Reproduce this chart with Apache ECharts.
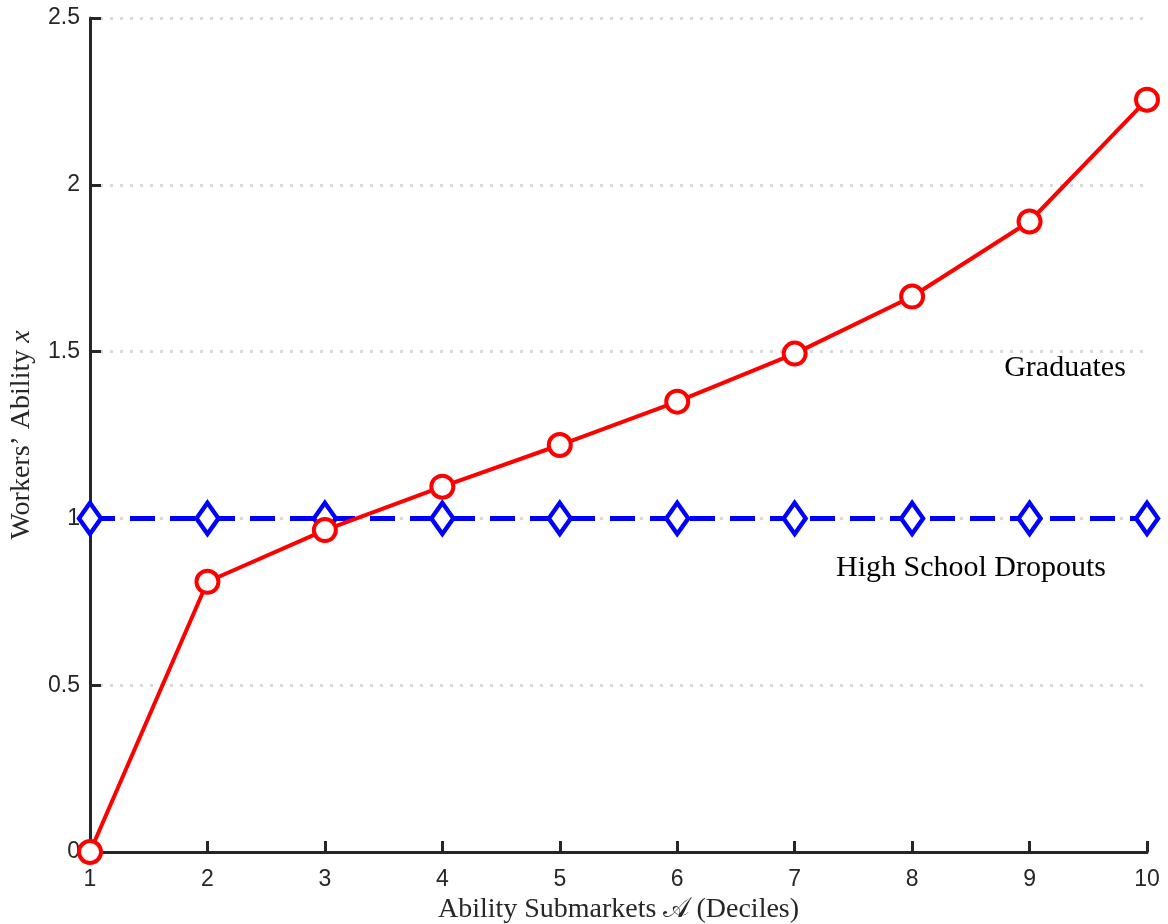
<!DOCTYPE html>
<html>
<head>
<meta charset="utf-8">
<script src="https://cdn.jsdelivr.net/npm/echarts@6/dist/echarts.min.js"></script>
<style>html,body{margin:0;padding:0;background:#fff}#c{width:1168px;height:924px}</style>
</head>
<body>
<div id="c"></div>
<script>
const deciles = [1, 2, 3, 4, 5, 6, 7, 8, 9, 10];
const graduates = [0, 0.81, 0.965, 1.095, 1.22, 1.35, 1.494, 1.665, 1.89, 2.255];
const dropouts = [1, 1, 1, 1, 1, 1, 1, 1, 1, 1];
const yTickLabels = {0: '0', 0.5: '0.5', 1: '1', 1.5: '1.5', 2: '2', 2.5: '2.5'};

const chart = echarts.init(document.getElementById('c'), null, {renderer: 'canvas'});
const axisColor = '#262626';
const serif = '"Liberation Serif", "DejaVu Serif", serif';
const sans = '"Liberation Sans", Arial, sans-serif';

chart.setOption({
  animation: false,
  backgroundColor: '#fff',
  grid: {left: 90, right: 21, top: 18, bottom: 72, containLabel: false, outerBoundsMode: 'none'},
  xAxis: {
    type: 'value', min: 1, max: 10, interval: 1,
    name: 'Ability Submarkets 𝒜 (Deciles)',
    nameLocation: 'middle', nameGap: 44,
    nameTextStyle: {fontFamily: serif, fontSize: 28, color: '#262626'},
    axisLine: {show: true, onZero: false, lineStyle: {color: axisColor, width: 3}},
    axisTick: {show: true, inside: true, length: 11, lineStyle: {color: axisColor, width: 3}},
    axisLabel: {fontFamily: sans, fontSize: 23, color: '#262626', margin: 16},
    splitLine: {show: false}
  },
  yAxis: {
    type: 'value', min: 0, max: 2.5, interval: 0.5,
    name: "{a|Workers’ Ability }{b|x}",
    nameLocation: 'middle', nameGap: 54,
    nameTextStyle: {
      fontFamily: serif, fontSize: 28, color: '#262626',
      rich: {a: {fontFamily: serif, fontSize: 28, color: '#262626'},
             b: {fontFamily: serif, fontSize: 28, fontStyle: 'italic', color: '#262626'}}
    },
    axisLine: {show: true, lineStyle: {color: axisColor, width: 3}},
    axisTick: {show: true, inside: true, length: 11, lineStyle: {color: axisColor, width: 3}},
    axisLabel: {fontFamily: sans, fontSize: 23, color: '#262626', margin: 10,
      formatter: v => yTickLabels[v] !== undefined ? yTickLabels[v] : String(v)},
    splitLine: {show: true, lineStyle: {color: '#d9d9d9', width: 3, type: [3, 7]}}
  },
  series: [
    {
      name: 'High School Dropouts', type: 'line',
      data: deciles.map((d, i) => [d, dropouts[i]]),
      symbol: 'diamond', symbolSize: [22, 31],
      lineStyle: {color: '#0000ff', width: 5, type: [25, 15]},
      itemStyle: {color: '#fff', borderColor: '#0000ff', borderWidth: 4.5},
      z: 3
    },
    {
      name: 'Graduates', type: 'line',
      data: deciles.map((d, i) => [d, graduates[i]]),
      symbol: 'circle', symbolSize: 22,
      lineStyle: {color: '#ff0000', width: 4},
      itemStyle: {color: '#fff', borderColor: '#ff0000', borderWidth: 4},
      z: 4
    }
  ],
  graphic: [
    {type: 'text', x: 1065, y: 368, style: {text: 'Graduates', font: '30px ' + serif, fill: '#000', align: 'center', verticalAlign: 'middle'}},
    {type: 'text', x: 971, y: 568, style: {text: 'High School Dropouts', font: '30px ' + serif, fill: '#000', align: 'center', verticalAlign: 'middle'}}
  ]
});
</script>
</body>
</html>
